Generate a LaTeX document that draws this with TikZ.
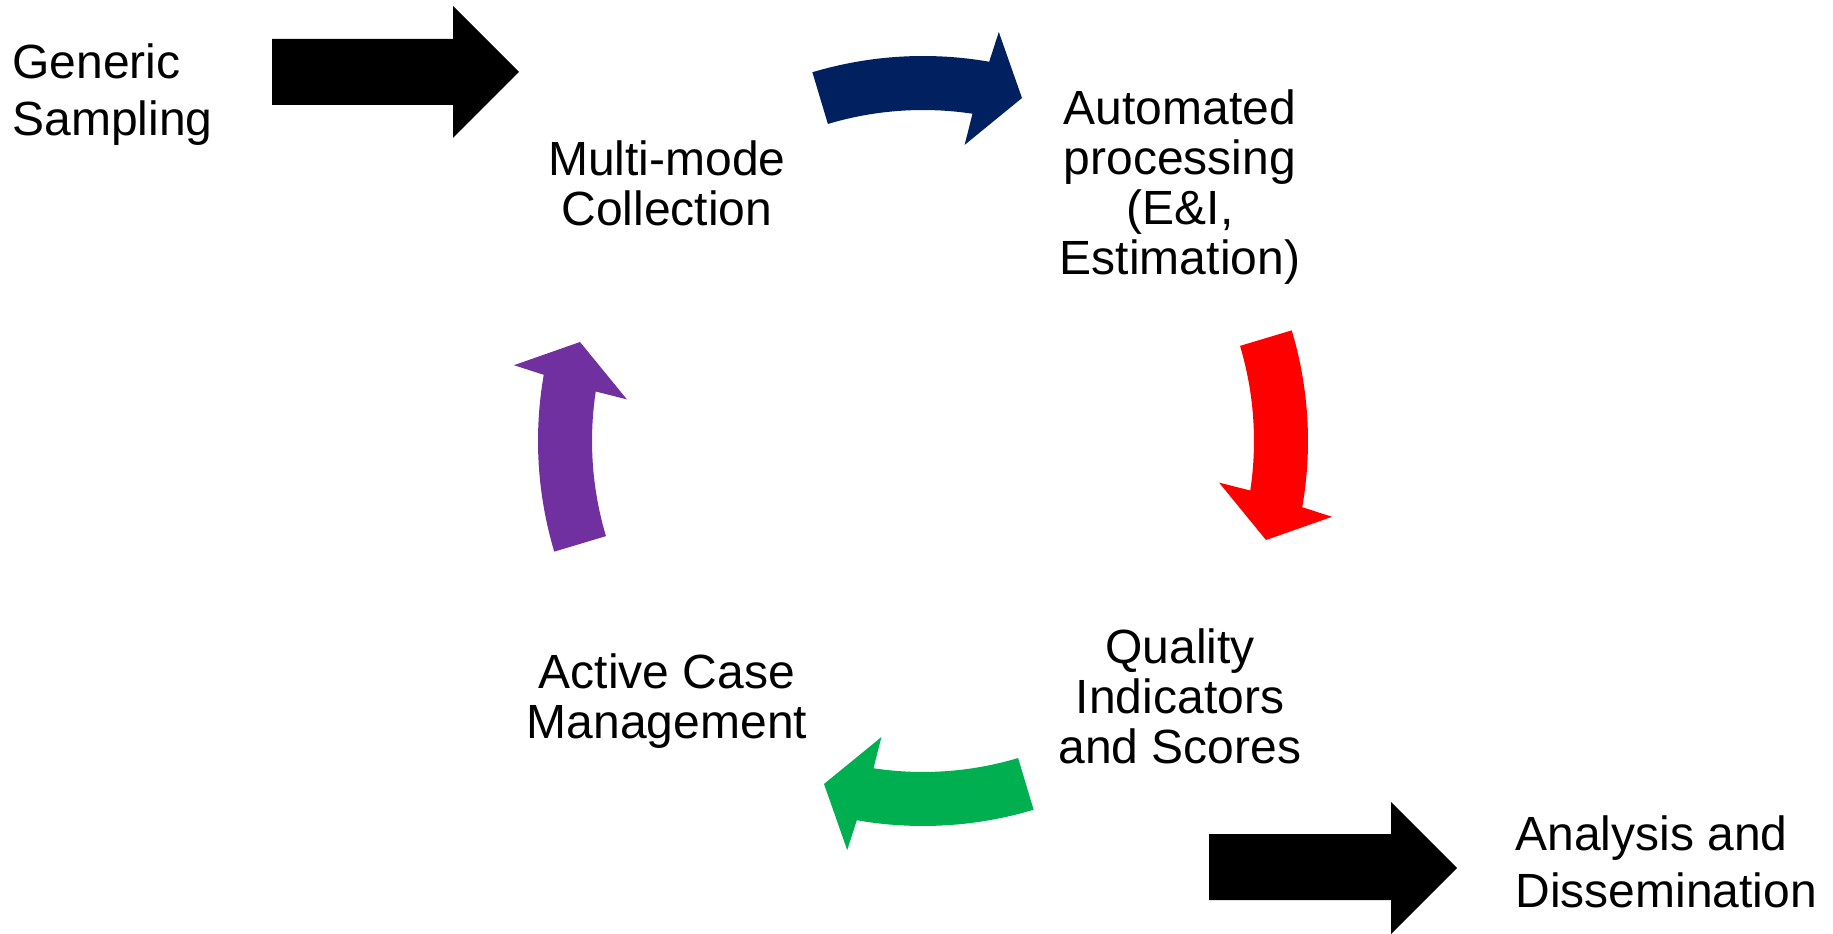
\documentclass[tikz,border=0pt]{standalone}
\usepackage{fontspec}
\setmainfont{Liberation Sans}
\definecolor{navy}{HTML}{002060}
\definecolor{offred}{HTML}{FF0000}
\definecolor{offgreen}{HTML}{00B050}
\definecolor{offpurple}{HTML}{7030A0}
\tikzset{
  label/.style={inner sep=0pt, align=center, font=\fontsize{24}{25}\selectfont},
  sidelabel/.style={inner sep=0pt, align=left, anchor=west, font=\fontsize{24}{28.5}\selectfont},
}
% one curved arrow of the cycle, #1 colour, #2 rotation
\newcommand{\cyclearrow}[2]{%
  \fill[#1, shift={(c)}, rotate=#2] (106.7:385) arc[start angle=106.7, end angle=80.1, radius=385]
    -- (79.5:416) -- (73.9:357) -- (82:299) -- (81.4:331)
    arc[start angle=81.4, end angle=106.7, radius=331] -- cycle;}
\begin{document}
\begin{tikzpicture}[x=0.5pt,y=0.5pt]
\useasboundingbox (0,0) rectangle (1833,933);
\coordinate (c) at (923,492);

\cyclearrow{navy}{0}
\cyclearrow{offred}{-90}
\cyclearrow{offgreen}{180}
\cyclearrow{offpurple}{90}

\node[label] (collect) at (667,750) {Multi-mode\\Collection};
\node[label] (process) at (1180,746) {Automated\\processing\\(E\&I,\\Estimation)};
\node[label] (quality) at (1180,237) {Quality\\Indicators\\and Scores};
\node[label] (active) at (667,232) {Active Case\\Management};

\node[sidelabel] (sampling) at (12,838) {Generic\\Sampling};
\node[sidelabel] (analysis) at (1515,71) {Analysis and\\Dissemination};

% block arrows in and out
\fill[black] (272,894) -- (453,894) -- (453,927) -- (519,861) -- (453,795) -- (453,828) -- (272,828) -- cycle;
\fill[black] (1209,99) -- (1391,99) -- (1391,131) -- (1457,65) -- (1391,-1) -- (1391,33) -- (1209,33) -- cycle;

\end{tikzpicture}
\end{document}
